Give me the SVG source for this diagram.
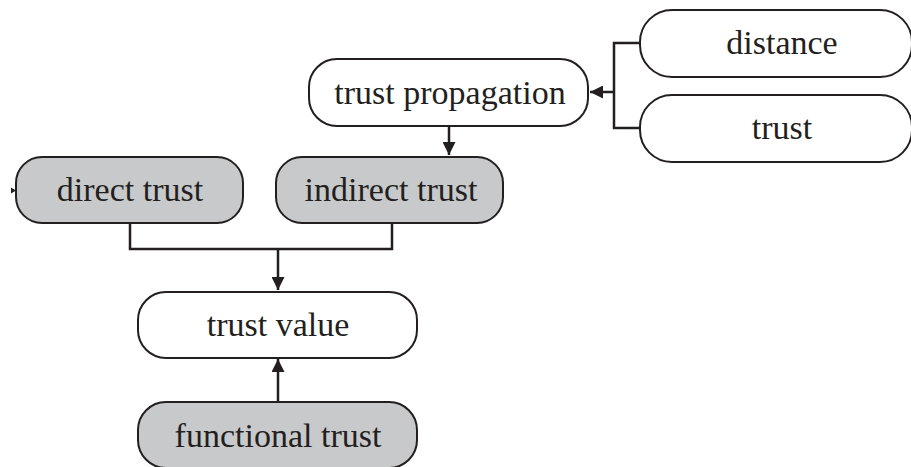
<svg xmlns="http://www.w3.org/2000/svg" width="911" height="467" viewBox="0 0 911 467">
<defs>
<style>
.box{stroke:#231f20;stroke-width:2;}
.w{fill:#ffffff;}
.g{fill:#c8c9cb;}
.t{font-family:"Liberation Serif","Times New Roman",serif;font-size:34px;fill:#231f20;text-anchor:middle;}
.c{fill:none;stroke:#231f20;stroke-width:2.5;}
</style>
<marker id="ah" viewBox="0 0 10 10" refX="10" refY="5" markerWidth="5.2" markerHeight="5.2" markerUnits="strokeWidth" orient="auto">
<path d="M0,0 L10,5 L0,10 z" fill="#231f20"/>
</marker>
</defs>
<rect width="911" height="467" fill="#ffffff"/>
<g id="connectors">
<path class="c" d="M640,43 H614 V128 H640"/>
<path class="c" d="M614,92 H590" marker-end="url(#ah)"/>
<path class="c" d="M449,126 V155" marker-end="url(#ah)"/>
<path class="c" d="M130,223 V249 H392 V223"/>
<path class="c" d="M278,249 V290" marker-end="url(#ah)"/>
<path class="c" d="M278,402 V359" marker-end="url(#ah)"/>
<path d="M11,187.5 L16,190.5 L11,193.5 z" fill="#231f20"/>
</g>
<g id="distance">
<rect class="box w" x="640" y="10" width="272" height="67" rx="32"/>
<text class="t" x="782" y="54">distance</text>
</g>
<g id="trust">
<rect class="box w" x="640" y="95" width="272" height="67" rx="32"/>
<text class="t" x="782" y="139">trust</text>
</g>
<g id="trust-propagation">
<rect class="box w" x="309" y="59" width="279" height="67" rx="28"/>
<text class="t" x="450" y="104">trust propagation</text>
</g>
<g id="direct-trust">
<rect class="box g" x="16" y="157" width="227" height="66" rx="26"/>
<text class="t" x="130" y="201">direct trust</text>
</g>
<g id="indirect-trust">
<rect class="box g" x="276" y="157" width="227" height="66" rx="26"/>
<text class="t" x="391" y="201">indirect trust</text>
</g>
<g id="trust-value">
<rect class="box w" x="138" y="292" width="279" height="66" rx="28"/>
<text class="t" x="278" y="336">trust value</text>
</g>
<g id="functional-trust">
<rect class="box g" x="138" y="402" width="279" height="66" rx="28"/>
<text class="t" x="278" y="447">functional trust</text>
</g>
</svg>
